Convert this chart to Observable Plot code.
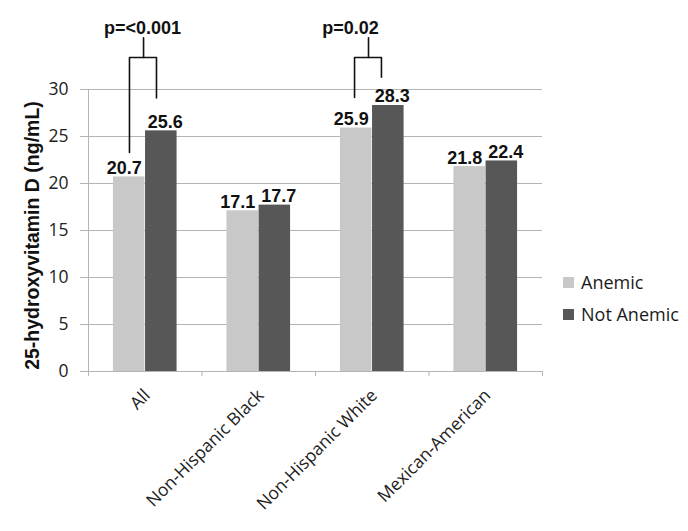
<!DOCTYPE html>
<html><head><meta charset="utf-8">
<script src="https://cdn.jsdelivr.net/npm/d3@7"></script>
<script src="https://cdn.jsdelivr.net/npm/@observablehq/plot@0.6"></script>
<style>
body{margin:0;background:#fff;}
#wrap{position:relative;width:688px;height:531px;}
#legend{position:absolute;left:563px;top:266px;font-family:"Open Sans",sans-serif;font-size:18px;color:#1a1a1a;}
#legend .row{display:flex;align-items:center;height:32px;}
#legend .sw{width:11px;height:11px;margin-right:7px;}
</style></head><body><div id="wrap"><div id="legend"></div></div>
<script>
// ---- data ----
const categories = ["All", "Non-Hispanic Black", "Non-Hispanic White", "Mexican-American"];
const series = ["Anemic", "Not Anemic"];
const anemic = [20.7, 17.1, 25.9, 21.8];
const notAnemic = [25.6, 17.7, 28.3, 22.4];
const yTicks = [0, 5, 10, 15, 20, 25, 30];
const colors = ["#c8c8c8", "#575757"];
const yTitle = "25-hydroxyvitamin D (ng/mL)";
// significance brackets
const pLabels = ["p=<0.001", "p=0.02"];
const pCategory = [0, 2];
const pLeftLeg = [-0.139, -0.156];   // category units
const pRightLeg = [0.099, 0.081];
const pStem = [-0.015, -0.033];
const pTextX = [-0.024, -0.192];
const pLeftBottom = [23.3, 29.15];   // value units
const pRightBottom = [29.1, 31.3];
const pTop = [33.4, 33.4];
const pStemTop = [35.5, 35.5];
const pTextY = [35.95, 35.95];

// ---- derived tables ----
const barW = 0.283;
const bars = [];
categories.forEach((c, i) => {
  bars.push({cat: c, series: series[0], value: anemic[i], x1: i - barW, x2: i, xc: i - barW / 2});
  bars.push({cat: c, series: series[1], value: notAnemic[i], x1: i, x2: i + barW, xc: i + barW / 2});
});
const bracketPts = [];
const stemPts = [];
const pText = [];
pLabels.forEach((lab, k) => {
  const c = pCategory[k];
  bracketPts.push({k, x: c + pLeftLeg[k], y: pLeftBottom[k]});
  bracketPts.push({k, x: c + pLeftLeg[k], y: pTop[k]});
  bracketPts.push({k, x: c + pRightLeg[k], y: pTop[k]});
  bracketPts.push({k, x: c + pRightLeg[k], y: pRightBottom[k]});
  stemPts.push({k, x: c + pStem[k], y: pTop[k]});
  stemPts.push({k, x: c + pStem[k], y: pStemTop[k]});
  pText.push({x: c + pTextX[k], y: pTextY[k], label: lab});
});
const boundaries = d3.range(categories.length + 1).map(i => i - 0.5);

const gridColor = "#b4b4b4";
const boldFont = {fontFamily: "'Liberation Sans', Arial, sans-serif", fontWeight: "bold", fontSize: 18, fill: "#111"};
const chart = Plot.plot({
  width: 688,
  height: 531,
  marginLeft: 88,
  marginRight: 146,
  marginTop: 89,
  marginBottom: 160,
  style: {fontFamily: "'Open Sans', sans-serif", fontSize: "17px", color: "#222", background: "#fff"},
  x: {type: "linear", domain: [-0.5, categories.length - 0.5], axis: null},
  y: {domain: [0, 30], axis: null},
  color: {domain: series, range: colors},
  marks: [
    Plot.ruleY(yTicks, {stroke: gridColor, strokeWidth: 1}),
    Plot.ruleX([-0.5], {stroke: gridColor, strokeWidth: 1}),
    Plot.axisY({ticks: yTicks, tickSize: 8, tickPadding: 12, stroke: gridColor, label: null, fontSize: 17.5, fill: "#222"}),
    Plot.axisX({ticks: boundaries, tickSize: 5, tickFormat: () => "", stroke: gridColor, label: null}),
    Plot.axisX({ticks: d3.range(categories.length), tickSize: 0, tickPadding: 21, tickRotate: -45, dx: 2,
      tickFormat: i => categories[i], label: null, fontSize: 17.5, fill: "#222"}),
    Plot.rectY(bars, {x1: "x1", x2: "x2", y: "value", fill: "series", insetLeft: 0.3, insetRight: 0.3}),
    Plot.text(bars.filter(d => d.series === series[0]), {x: "xc", y: "value", text: d => d.value.toFixed(1),
      lineAnchor: "bottom", dy: -3, dx: -5, ...boldFont}),
    Plot.text(bars.filter(d => d.series === series[1]), {x: "xc", y: "value", text: d => d.value.toFixed(1),
      lineAnchor: "bottom", dy: -3, dx: 4, ...boldFont}),
    Plot.line(bracketPts, {x: "x", y: "y", z: "k", stroke: "#111", strokeWidth: 1.6, curve: "linear"}),
    Plot.line(stemPts, {x: "x", y: "y", z: "k", stroke: "#111", strokeWidth: 1.6}),
    Plot.text(pText, {x: "x", y: "y", text: "label", lineAnchor: "bottom", ...boldFont}),
    Plot.text([yTitle], {frameAnchor: "left", rotate: -90, textAnchor: "middle", lineAnchor: "middle",
      dx: -56, dy: 5, ...boldFont, fontSize: 19.5})
  ]
});
document.getElementById("wrap").prepend(chart);

const legend = d3.select("#legend");
series.forEach((s, i) => {
  const row = legend.append("div").attr("class", "row");
  row.append("div").attr("class", "sw").style("background", colors[i]);
  row.append("span").text(s);
});
</script>
</body></html>
